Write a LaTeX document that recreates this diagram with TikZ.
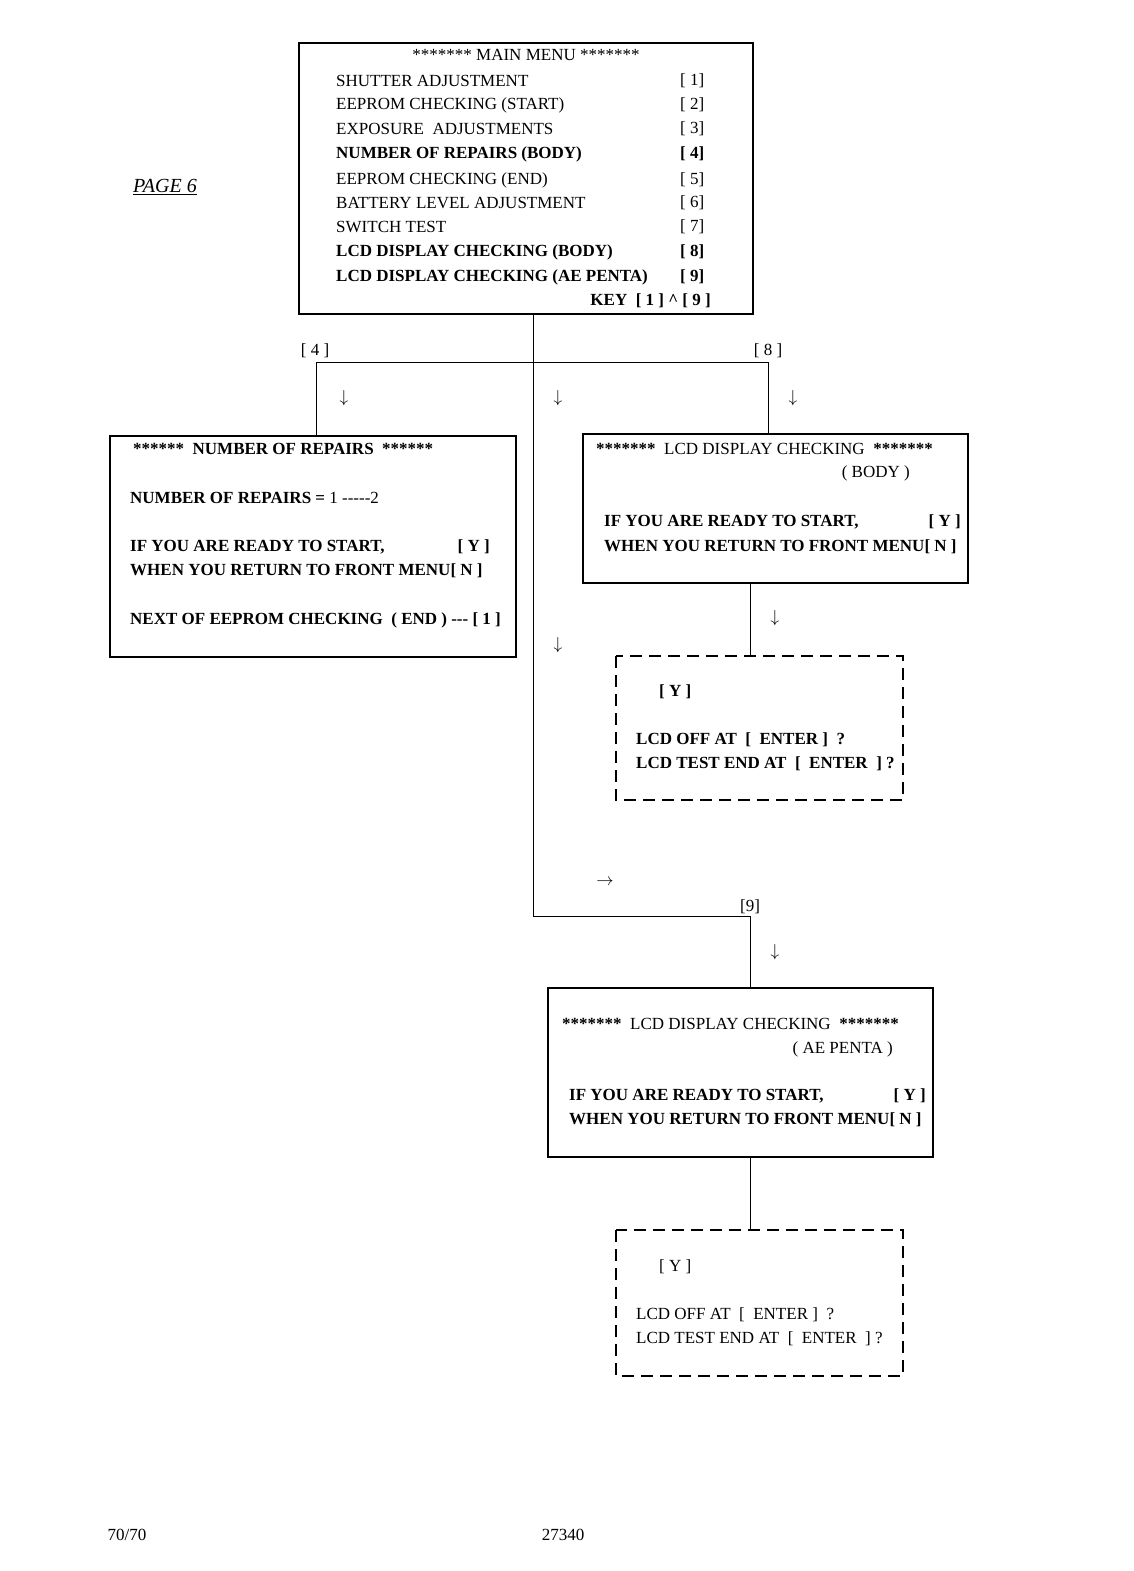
\documentclass[tikz,border=0pt]{standalone}
\usepackage{fontspec}
\setmainfont{Liberation Serif}
\begin{document}
\begin{tikzpicture}[x=1pt,y=-1pt,
  t/.style={anchor=west,inner sep=0pt,font=\fontsize{17}{19}\selectfont},
  tb/.style={t,font=\fontsize{17}{19}\selectfont\bfseries},
  c/.style={inner sep=0pt,font=\fontsize{17}{19}\selectfont},
  box/.style={draw,line width=1.6pt},
  dbox/.style={draw,line width=1.6pt,dash pattern=on 12pt off 7pt},
  ln/.style={line width=1pt},
  ar/.style={inner sep=0pt,font=\fontsize{16}{18}\selectfont}]
\useasboundingbox (0,0) rectangle (1133,1571);
% main menu
\draw[box] (299,43) rectangle (753,314);
\node[c] (mt) at (526,55) {******* MAIN MENU *******};
\foreach \y/\s/\k in {81/SHUTTER ADJUSTMENT/1,105/EEPROM CHECKING (START)/2,129/EXPOSURE\ \ ADJUSTMENTS/3,180/EEPROM CHECKING (END)/5,203/BATTERY LEVEL ADJUSTMENT/6,227/SWITCH TEST/7}{
  \node[t] at (336,\y) {\s}; \node[t] at (680,\y) {[ \k ]};}
\foreach \y/\s/\k in {154/NUMBER OF REPAIRS (BODY)/4,252/LCD DISPLAY CHECKING (BODY)/8,277/LCD DISPLAY CHECKING (AE PENTA)/9}{
  \node[tb] at (336,\y) {\s}; \node[tb] at (680,\y) {[ \k ]};}
\node[tb,anchor=east] at (711,301) {KEY\ \ [ 1 ] \^{} [ 9 ]};
\node[c,anchor=center,font=\fontsize{20}{22}\selectfont\itshape] at (165,187) {\underline{PAGE 6}};
% connectors
\coordinate (m0) at (533,314);
\coordinate (m1) at (533,916);
\coordinate (m2) at (750,916);
\draw[ln] (m0) -- (m1) -- (m2) -- (750,988);
\draw[ln] (316,436) -- (316,362) -- (768,362) -- (768,434);
\node[c] at (315,351) {[ 4 ]};
\node[c] at (768,351) {[ 8 ]};
\node[c] at (750,907) {[9]};
\foreach \x/\y in {344/398,558/398,793/398,558/645,775/618,775/952}{\node[ar] at (\x,\y) {$\downarrow$};}
\node[ar] at (605,882) {$\rightarrow$};
% number of repairs
\draw[box] (110,436) rectangle (516,657);
\node[tb] at (133,449) {****** \ NUMBER OF REPAIRS \ ******};
\node[tb] at (130,498) {NUMBER OF REPAIRS = \mdseries 1 {-}{-}{-}{-}{-}2};
\node[tb] at (130,547) {IF YOU ARE READY TO START,};
\node[tb,anchor=east] at (490,547) {[ Y ]};
\node[tb] at (130,571) {WHEN YOU RETURN TO FRONT MENU[ N ]};
\node[tb] at (130,620) {NEXT OF EEPROM CHECKING\ \ ( END ) {-}{-}{-} [ 1 ]};
% LCD body
\draw[box] (583,434) rectangle (968,583);
\node[tb] at (596,449) {******* \ \mdseries LCD DISPLAY CHECKING\ \ \bfseries *******};
\node[t,anchor=east] at (910,473) {( BODY )};
\node[tb] at (604,522) {IF YOU ARE READY TO START,};
\node[tb,anchor=east] at (961,522) {[ Y ]};
\node[tb] at (604,547) {WHEN YOU RETURN TO FRONT MENU[ N ]};
\draw[ln] (750,583) -- (750,656);
\draw[dbox] (616,656) rectangle (903,800);
\node[tb] at (659,692) {[ Y ]};
\node[tb] at (636,740) {LCD OFF AT\ \ [\ \ ENTER ]\ \ ?};
\node[tb] at (636,764) {LCD TEST END AT\ \ [\ \ ENTER\ \ ] ?};
% AE penta
\draw[box] (548,988) rectangle (933,1157);
\node[tb] at (562,1024) {******* \ \mdseries LCD DISPLAY CHECKING\ \ \bfseries *******};
\node[t,anchor=east] at (893,1049) {( AE PENTA )};
\node[tb] at (569,1096) {IF YOU ARE READY TO START,};
\node[tb,anchor=east] at (926,1096) {[ Y ]};
\node[tb] at (569,1120) {WHEN YOU RETURN TO FRONT MENU[ N ]};
\draw[ln] (750,1157) -- (750,1230);
\draw[dbox] (616,1230) rectangle (903,1376);
\node[t] at (659,1267) {[ Y ]};
\node[t] at (636,1315) {LCD OFF AT\ \ [\ \ ENTER ]\ \ ?};
\node[t] at (636,1339) {LCD TEST END AT\ \ [\ \ ENTER\ \ ] ?};
\node[c,font=\fontsize{17}{19}\selectfont] at (127,1535) {70/70};
\node[c,font=\fontsize{17}{19}\selectfont] at (563,1535) {27340};
\end{tikzpicture}
\end{document}
